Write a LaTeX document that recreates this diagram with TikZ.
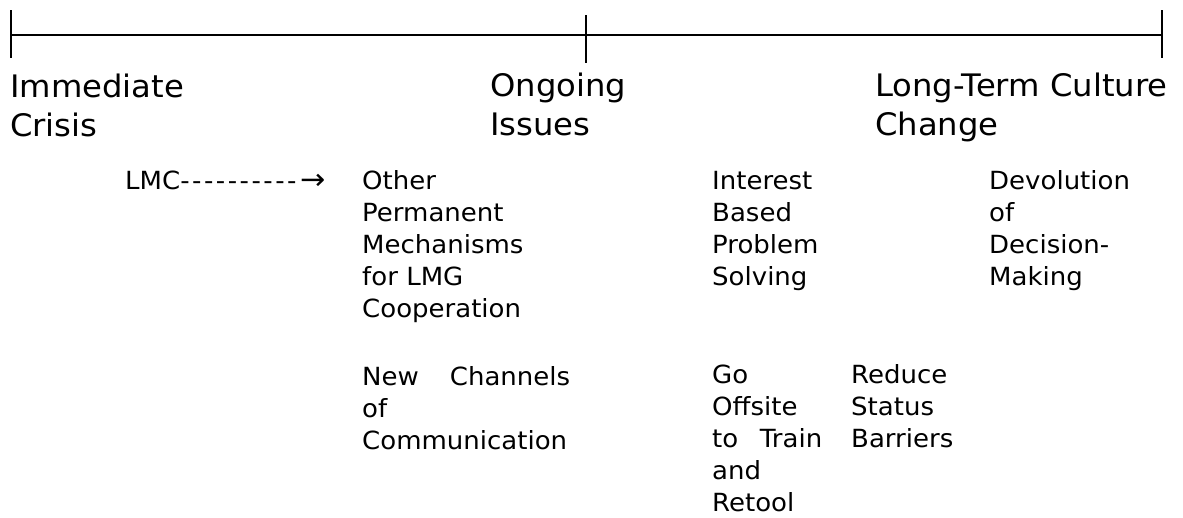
\documentclass[tikz,border=0pt]{standalone}
\usepackage{fontspec}
\newfontfamily\tlfont[FakeStretch=1.04]{DejaVu Sans}
\usepackage{tikz}

\begin{document}
\begin{tikzpicture}[x=1pt, y=-1pt,
        phase/.style={font=\tlfont\fontsize{31}{39}\selectfont, text width=330pt, align=left, inner sep=0pt, anchor=base west},
        item/.style={font=\tlfont\fontsize{25}{32}\selectfont, text width=230pt, align=left, inner sep=0pt, anchor=base west}]

            \useasboundingbox (0,0) rectangle (1183,518);

            \coordinate (tstart) at (11,35);
            \coordinate (tmid) at (586,35);
            \coordinate (tend) at (1162,35);

            \draw[line width=1.5pt] (tstart)--(tend);
            \draw[line width=1.5pt] ([yshift=-23pt]tstart)--([yshift=25pt]tstart);
            \draw[line width=1.5pt] ([yshift=-28pt]tmid)--([yshift=20pt]tmid);
            \draw[line width=1.5pt] ([yshift=-23pt]tend)--([yshift=25pt]tend);

            \node[phase] (crisis) at (10,98) {Immediate\\Crisis};
            \node[phase] (ongoing) at (490,97) {Ongoing\\Issues};
            \node[phase] (culture) at (875,97) {Long-Term Culture\\Change};

            \node[item] (lmc) at (125,190) {LMC{\addfontfeature{LetterSpace=10}----------}\,{\fontsize{29}{32}\selectfont→}};
            \node[item] (other) at (362,190) {Other\\Permanent\\Mechanisms\\for LMG\\Cooperation};
            \node[item, text width=208pt] (channels) at (362,385) {New\hfill Channels\\of\\Communication};

            \node[item] (interest) at (712,190) {Interest\\Based\\Problem\\Solving};
            \node[item, text width=160pt] (devolution) at (989,190) {Devolution\\of\\Decision-\\Making};
            \node[item, text width=110pt] (offsite) at (712,384) {Go\\Offsite\\to\hfill Train\\and\\Retool};
            \node[item, text width=120pt] (status) at (851,384) {Reduce\\Status\\Barriers};

        \end{tikzpicture}
\end{document}
